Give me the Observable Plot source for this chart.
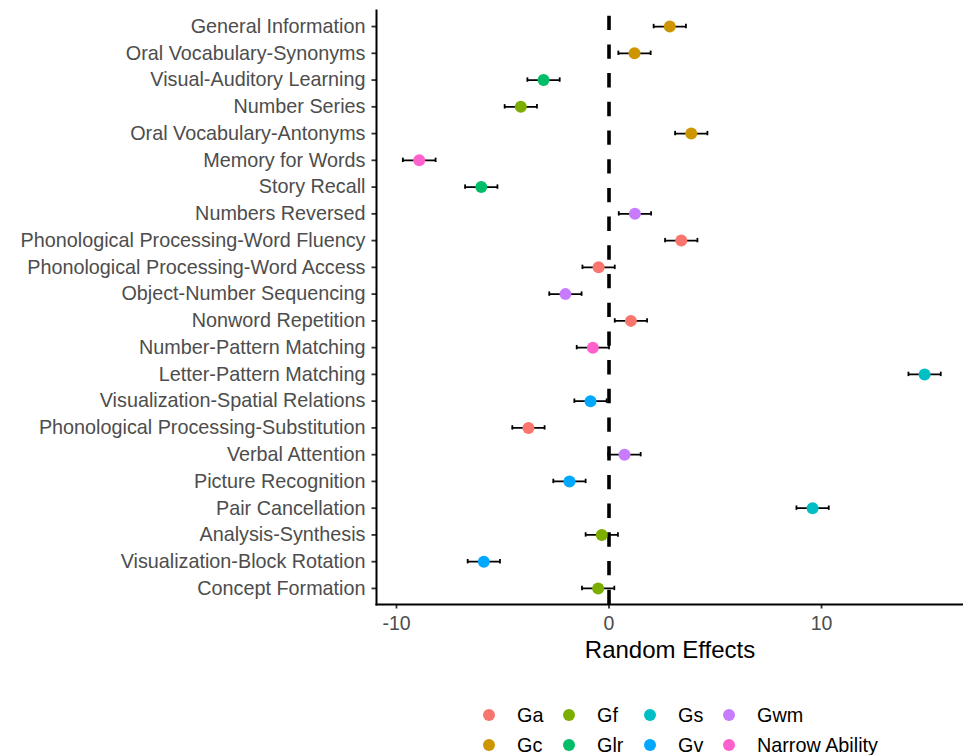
<!DOCTYPE html>
<html><head><meta charset="utf-8">
<script src="https://cdn.jsdelivr.net/npm/d3@7"></script>
<script src="https://cdn.jsdelivr.net/npm/@observablehq/plot@0.6"></script>
<style>
body{margin:0;background:#fff;font-family:"Liberation Sans",Arial,sans-serif;}
#legend{display:grid;grid-template-rows:30px 30px;grid-auto-flow:column;grid-template-columns:80px 81px 79px 170px;margin-left:483px;margin-top:30px;}
.item{display:flex;align-items:center;font-size:19.8px;color:#000;white-space:nowrap;}
.sw{width:12px;height:12px;border-radius:50%;margin-right:22px;flex:none;}
</style></head><body>
<div id="chart"></div><div id="legend"></div>
<script>
const tests = [
  "General Information","Oral Vocabulary-Synonyms","Visual-Auditory Learning","Number Series",
  "Oral Vocabulary-Antonyms","Memory for Words","Story Recall","Numbers Reversed",
  "Phonological Processing-Word Fluency","Phonological Processing-Word Access","Object-Number Sequencing",
  "Nonword Repetition","Number-Pattern Matching","Letter-Pattern Matching","Visualization-Spatial Relations",
  "Phonological Processing-Substitution","Verbal Attention","Picture Recognition","Pair Cancellation",
  "Analysis-Synthesis","Visualization-Block Rotation","Concept Formation"
];
const abilities = [
  "Gc","Gc","Glr","Gf","Gc","Narrow Ability","Glr","Gwm",
  "Ga","Ga","Gwm","Ga","Narrow Ability","Gs","Gv",
  "Ga","Gwm","Gv","Gs","Gf","Gv","Gf"
];
const effects = [
  2.86, 1.20, -3.08, -4.15, 3.87, -8.93, -6.01, 1.22,
  3.40, -0.49, -2.05, 1.03, -0.76, 14.85, -0.87,
  -3.79, 0.73, -1.86, 9.58, -0.34, -5.89, -0.51
];
const halfWidths = [
  0.76, 0.76, 0.76, 0.76, 0.76, 0.77, 0.76, 0.76,
  0.76, 0.76, 0.76, 0.76, 0.76, 0.76, 0.76,
  0.76, 0.76, 0.76, 0.76, 0.76, 0.76, 0.76
];
const abilityLevels = ["Ga","Gc","Gf","Glr","Gs","Gv","Gwm","Narrow Ability"];
const abilityColors = ["#F8766D","#CD9600","#7CAE00","#00BE67","#00BFC4","#00A9FF","#C77CFF","#FF61CC"];
const xTicks = [-10, 0, 10];
const xDomain = [-10.94, 16.68];

const data = tests.map((t, i) => ({
  test: t, ability: abilities[i], effect: effects[i],
  lo: effects[i] - halfWidths[i], hi: effects[i] + halfWidths[i]
}));

const font = '"Liberation Sans", Arial, sans-serif';
const chart = Plot.plot({
  width: 963, height: 670,
  marginTop: 10, marginBottom: 66, marginLeft: 376, marginRight: 0,
  style: {fontFamily: font, fontSize: "19.5px", background: "#fff", overflow: "visible"},
  x: {domain: xDomain},
  y: {type: "point", domain: tests, padding: 0.6, round: false},
  color: {domain: abilityLevels, range: abilityColors},
  marks: [
    Plot.axisY({tickSize: 4.5, tickPadding: 6.5, fontSize: 19.8, fill: "#4d4d4d", stroke: "#333", strokeWidth: 1.8, label: null}),
    Plot.axisX({ticks: xTicks, tickFormat: d => String(d), tickSize: 4.5, tickPadding: 7, fontSize: 19.5, fill: "#4d4d4d", stroke: "#333", strokeWidth: 1.8, label: null}),
    Plot.text(["Random Effects"], {frameAnchor: "bottom", lineAnchor: "middle", dy: 46, fontSize: 24, fill: "#000"}),
    Plot.ruleX([0], {stroke: "#000", strokeWidth: 3.6, strokeDasharray: "14.35,14.35", strokeDashoffset: 23}),
    Plot.ruleY(data, {y: "test", x1: "lo", x2: "hi", stroke: "#000", strokeWidth: 1.8}),
    Plot.ruleX(data, {x: "lo", y1: "test", y2: "test", insetTop: -2.2, insetBottom: -2.2, stroke: "#000", strokeWidth: 1.8}),
    Plot.ruleX(data, {x: "hi", y1: "test", y2: "test", insetTop: -2.2, insetBottom: -2.2, stroke: "#000", strokeWidth: 1.8}),
    Plot.dot(data, {x: "effect", y: "test", r: 6, fill: "ability", stroke: null}),
    Plot.frame({anchor: "left", stroke: "#000", strokeWidth: 2}),
    Plot.frame({anchor: "bottom", stroke: "#000", strokeWidth: 2})
  ]
});
document.getElementById("chart").appendChild(chart);

const legend = d3.select("#legend");
abilityLevels.forEach((lvl, i) => {
  const it = legend.append("div").attr("class", "item");
  it.append("span").attr("class", "sw").style("background", abilityColors[i]);
  it.append("span").text(lvl);
});
</script>
</body></html>
